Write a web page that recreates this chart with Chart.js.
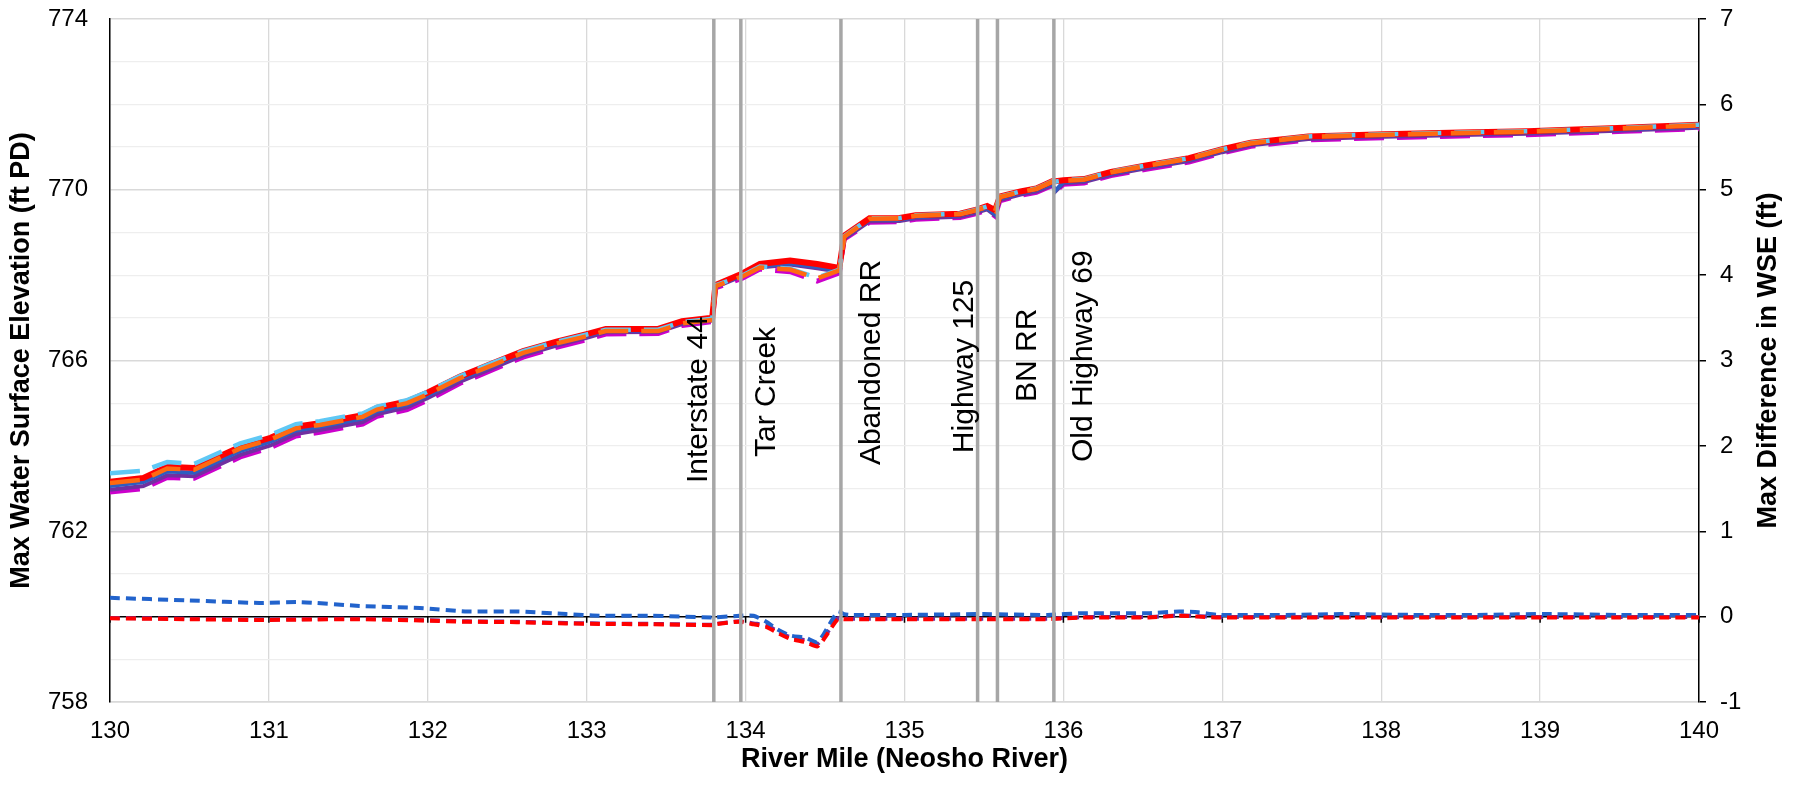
<!DOCTYPE html>
<html><head><meta charset="utf-8">
<script src="https://cdn.jsdelivr.net/npm/chart.js@4.4.1/dist/chart.umd.min.js"></script>
<style>html,body{margin:0;padding:0;background:#fff}canvas{display:block}</style>
</head><body><canvas id="c" width="1801" height="786"></canvas>
<script>
// ---------- DATA ----------
const miles = [130.00,130.21,130.36,130.53,130.82,131.01,131.17,131.32,131.59,131.68,131.87,132.00,132.20,132.42,132.60,132.81,133.00,133.12,133.45,133.60,133.79,133.81,133.98,134.09,134.28,134.45,134.59,134.62,134.78,134.97,135.07,135.35,135.44,135.52,135.57,135.60,135.73,135.83,135.93,135.95,136.00,136.13,136.30,136.52,136.79,137.00,137.18,137.54,138.02,138.50,138.92,139.53,140.00];

const wseRed = [763.16,763.25,763.51,763.48,763.98,764.19,764.45,764.53,764.72,764.89,765.04,765.25,765.62,765.95,766.22,766.44,766.62,766.74,766.74,766.92,767.00,767.77,768.04,768.26,768.34,768.26,768.17,768.92,769.33,769.34,769.40,769.44,769.52,769.62,769.52,769.84,769.96,770.03,770.20,770.20,770.22,770.25,770.42,770.57,770.74,770.95,771.10,771.25,771.30,771.34,771.37,771.45,771.52];
const wseBlue = [763.06,763.15,763.40,763.37,763.88,764.10,764.36,764.45,764.64,764.81,764.97,765.18,765.56,765.89,766.17,766.40,766.58,766.70,766.71,766.89,766.97,767.74,768.00,768.20,768.27,768.19,768.10,768.88,769.29,769.30,769.36,769.40,769.48,769.57,769.42,769.79,769.92,769.99,770.14,769.98,770.18,770.21,770.38,770.53,770.70,770.91,771.07,771.22,771.27,771.31,771.34,771.42,771.48];
const wsePurple = [762.97,763.06,763.31,763.29,763.79,764.01,764.28,764.37,764.56,764.74,764.90,765.12,765.50,765.84,766.12,766.35,766.53,766.66,766.67,766.85,766.94,767.72,767.98,768.18,768.25,768.16,768.08,768.85,769.26,769.27,769.33,769.37,769.45,769.54,769.40,769.76,769.89,769.96,770.11,769.96,770.15,770.18,770.35,770.50,770.67,770.88,771.04,771.19,771.24,771.28,771.31,771.39,771.45];
const wseMagenta = [762.92,763.00,763.26,763.24,763.74,763.96,764.23,764.32,764.51,764.69,764.85,765.07,765.46,765.80,766.08,766.31,766.49,766.62,766.63,766.82,766.91,767.70,767.93,768.14,768.08,767.86,768.05,768.84,769.24,769.25,769.31,769.35,769.43,769.52,769.38,769.74,769.87,769.94,770.10,769.95,770.13,770.16,770.33,770.48,770.65,770.86,771.02,771.17,771.22,771.26,771.29,771.37,771.43];
const wseOrange = [763.13,763.21,763.47,763.44,763.94,764.15,764.41,764.49,764.68,764.85,765.00,765.21,765.58,765.91,766.18,766.40,766.57,766.69,766.69,766.87,766.95,767.74,767.97,768.18,768.13,767.92,768.11,768.90,769.32,769.33,769.39,769.43,769.51,769.60,769.50,769.83,769.95,770.02,770.19,770.18,770.21,770.24,770.41,770.56,770.73,770.94,771.09,771.24,771.29,771.33,771.36,771.44,771.51];
const wseLightBlue = [763.36,763.42,763.62,763.58,764.06,764.26,764.51,764.58,764.76,764.92,765.07,765.27,765.63,765.96,766.22,766.44,766.61,766.72,766.72,766.90,766.98,767.76,767.99,768.20,768.15,767.94,768.13,768.91,769.33,769.34,769.40,769.44,769.52,769.61,769.51,769.84,769.96,770.03,770.20,770.19,770.22,770.25,770.42,770.57,770.74,770.95,771.10,771.25,771.30,771.34,771.37,771.45,771.52];

const diffMiles = [130.0,130.5,130.94,131.2,131.57,131.95,132.25,132.56,132.87,133.08,133.4,133.79,133.81,133.96,134.05,134.13,134.2,134.28,134.38,134.45,134.49,134.58,134.62,134.66,135.0,135.5,135.9,136.12,136.54,136.73,136.85,136.98,137.4,137.75,138.2,138.6,139.03,139.5,140.0];
const diffBlue = [0.22,0.19,0.16,0.17,0.125,0.10,0.06,0.06,0.03,0.01,0.01,-0.01,-0.01,0.01,0.01,-0.06,-0.15,-0.22,-0.25,-0.30,-0.21,0.06,0.03,0.02,0.02,0.03,0.02,0.04,0.04,0.06,0.05,0.02,0.02,0.03,0.02,0.02,0.03,0.02,0.02];
const diffRed = [-0.02,-0.03,-0.04,-0.035,-0.03,-0.045,-0.06,-0.065,-0.08,-0.085,-0.09,-0.10,-0.09,-0.06,-0.09,-0.12,-0.19,-0.26,-0.30,-0.35,-0.27,-0.03,-0.03,-0.03,-0.03,-0.03,-0.03,-0.01,-0.01,0.01,0.0,-0.01,-0.01,-0.01,-0.01,-0.01,-0.01,-0.01,-0.01];
const diffPurple = [-0.015,-0.025,-0.035,-0.03,-0.025,-0.04,-0.055,-0.06,-0.075,-0.08,-0.085,-0.095,-0.085,-0.055,-0.08,-0.10,-0.17,-0.24,-0.28,-0.32,-0.25,-0.02,-0.025,-0.025,-0.025,-0.025,-0.025,-0.005,-0.005,0.015,0.005,-0.005,-0.005,-0.005,-0.005,-0.005,-0.005,-0.005,-0.005];

const structNames = ['Interstate 44','Tar Creek','Abandoned RR','Highway 125','BN RR','Old Highway 69'];
const structMiles = [133.80,133.97,134.60,135.46,135.585,135.94];

const xTickRange = [130, 140];
const elevRange = [758, 774];
const elevLabelStep = 4;
const diffRange = [-1, 7];

// label placement (styling): baseline offset in px from the line, start elevation
const labelOffsetPx = [-7, 34, 39, -5, 39, 38];
const labelStartElev = [763.13, 763.74, 763.55, 763.83, 765.03, 763.62];

// ---------- CHART ----------
const FONT = "'Liberation Sans', Arial, Helvetica, sans-serif";
const pts = (xs, ys) => xs.map((x, i) => ({x: x, y: ys[i]}));
const isMajor = v => ((v - elevRange[0]) % elevLabelStep === 0);

const mainLine = (label, ys, color, width, dash, order) => ({
  label, data: pts(miles, ys), yAxisID: 'y', borderColor: color, backgroundColor: color,
  borderWidth: width, borderDash: dash || [], pointRadius: 0, fill: false, order
});
const diffLine = (label, ys, color, order) => ({
  label, data: pts(diffMiles, ys), yAxisID: 'y2', borderColor: color, backgroundColor: color,
  borderWidth: 4, borderDash: [10, 6], pointRadius: 0, fill: false, tension: 0.2, order
});

const datasets = [
  mainLine('Magenta', wseMagenta, '#cc00cc', 5, [30, 13], 16),
  mainLine('Purple', wsePurple, '#7030a0', 4, null, 15),
  mainLine('Blue', wseBlue, '#2e5cc0', 4, null, 14),
  mainLine('Red', wseRed, '#ff0000', 6, null, 13),
  mainLine('Light blue', wseLightBlue, '#5fc8f5', 4.5, [30, 13], 12),
  mainLine('Orange', wseOrange, '#ff6a10', 4.5, [30, 13], 11),
  diffLine('Diff purple', diffPurple, '#7030a0', 10),
  diffLine('Diff blue', diffBlue, '#2263cc', 9),
  diffLine('Diff red', diffRed, '#ff0000', 8),
];
structMiles.forEach((m, i) => {
  datasets.push({
    label: structNames[i], data: [{x: m, y: elevRange[0]}, {x: m, y: elevRange[1]}], yAxisID: 'y',
    borderColor: '#a6a6a6', borderWidth: 3.5, pointRadius: 0, fill: false, order: 0
  });
});

const zeroLine = {
  id: 'zeroLine',
  beforeDatasetsDraw(chart) {
    const {ctx, chartArea: a, scales: {x, y2}} = chart;
    const yy = y2.getPixelForValue(0);
    ctx.save();
    ctx.strokeStyle = '#000';
    ctx.lineWidth = 1.5;
    ctx.beginPath();
    ctx.moveTo(a.left, yy); ctx.lineTo(a.right, yy);
    x.ticks.forEach(t => { const px = x.getPixelForValue(t.value); ctx.moveTo(px, yy); ctx.lineTo(px, yy + 6); });
    ctx.stroke();
    ctx.restore();
  }
};

const structLabels = {
  id: 'structLabels',
  afterDatasetsDraw(chart) {
    const {ctx, scales: {x, y}} = chart;
    ctx.save();
    ctx.fillStyle = '#000';
    ctx.font = '30px ' + FONT;
    ctx.textAlign = 'left';
    ctx.textBaseline = 'alphabetic';
    structNames.forEach((name, i) => {
      const px = x.getPixelForValue(structMiles[i]) + labelOffsetPx[i];
      const py = y.getPixelForValue(labelStartElev[i]);
      ctx.save();
      ctx.translate(px, py);
      ctx.rotate(-Math.PI / 2);
      ctx.fillText(name, 0, 0);
      ctx.restore();
    });
    ctx.restore();
  }
};

const rightTitle = {
  id: 'rightTitle',
  afterDraw(chart) {
    const {ctx, chartArea: a, scales: {y2}} = chart;
    ctx.save();
    ctx.fillStyle = '#000';
    ctx.font = 'bold 27px ' + FONT;
    ctx.textAlign = 'center';
    ctx.textBaseline = 'middle';
    ctx.translate(y2.right - 32, (a.top + a.bottom) / 2);
    ctx.rotate(-Math.PI / 2);
    ctx.fillText('Max Difference in WSE (ft)', 0, 0);
    ctx.restore();
  }
};

const noPad = s => { s.paddingTop = 0; s.paddingBottom = 0; s.paddingLeft = 0; s.paddingRight = 0; };

new Chart(document.getElementById('c'), {
  type: 'line',
  data: {datasets},
  plugins: [zeroLine, structLabels, rightTitle],
  options: {
    responsive: false, animation: false, devicePixelRatio: 1,
    layout: {padding: {top: 19, left: 0, right: 0, bottom: 0}},
    plugins: {legend: {display: false}, tooltip: {enabled: false}},
    elements: {point: {radius: 0}, line: {tension: 0}},
    scales: {
      x: {
        type: 'linear', min: xTickRange[0], max: xTickRange[1],
        ticks: {stepSize: 1, autoSkip: false, color: '#000', padding: 15, font: {size: 24, family: FONT}},
        grid: {color: '#d9d9d9', lineWidth: 1.3, drawTicks: false},
        border: {color: '#d9d9d9', width: 1.5},
        title: {display: true, text: 'River Mile (Neosho River)', color: '#000', font: {size: 27, weight: 'bold', family: FONT}, padding: {top: 0, bottom: 10}},
        afterFit(s) { s.height = 84; noPad(s); }
      },
      y: {
        position: 'left', min: elevRange[0], max: elevRange[1],
        ticks: {stepSize: 1, autoSkip: false, color: '#000', padding: 22, font: {size: 24, family: FONT},
          callback: v => (isMajor(v) ? String(v) : '')},
        grid: {drawTicks: false,
          color: c => (c.tick && isMajor(c.tick.value) ? '#d9d9d9' : '#eeeeee'),
          lineWidth: c => (c.tick && isMajor(c.tick.value) ? 1.5 : 1.2)},
        border: {color: '#000', width: 1.5},
        title: {display: true, text: 'Max Water Surface Elevation (ft PD)', color: '#000', font: {size: 27, weight: 'bold', family: FONT}, padding: {top: 5, bottom: 0}},
        afterFit(s) { s.width = 110; noPad(s); }
      },
      y2: {
        position: 'right', min: diffRange[0], max: diffRange[1],
        ticks: {stepSize: 1, autoSkip: false, color: '#000', padding: 14, font: {size: 24, family: FONT}},
        grid: {drawOnChartArea: false, color: '#000', tickLength: 7, lineWidth: 1.5},
        border: {color: '#000', width: 1.5},
        afterFit(s) { s.width = 102; noPad(s); }
      }
    }
  }
});
</script>
</body></html>
